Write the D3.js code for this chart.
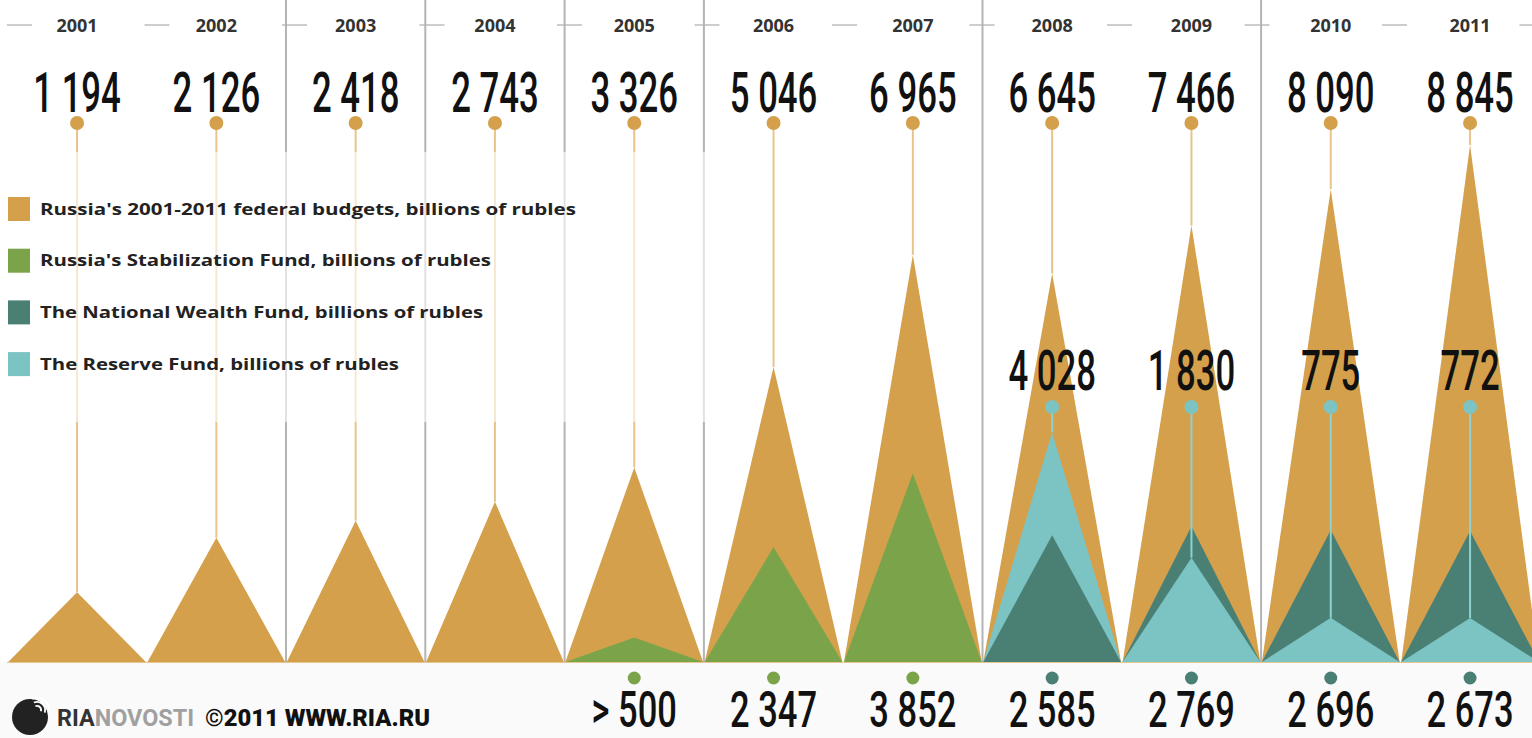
<!DOCTYPE html>
<html><head><meta charset="utf-8">
<script src="https://cdn.jsdelivr.net/npm/d3@7"></script>
<style>html,body{margin:0;padding:0;background:#fff;overflow:hidden}</style>
</head><body>
<svg id="c" width="1532" height="738"></svg>
<script>
const years = [2001,2002,2003,2004,2005,2006,2007,2008,2009,2010,2011];
const budget = [1194,2126,2418,2743,3326,5046,6965,6645,7466,8090,8845];
const budgetLabels = ["1 194","2 126","2 418","2 743","3 326","5 046","6 965","6 645","7 466","8 090","8 845"];
const stabFund = [null,null,null,null,500,2347,3852,null,null,null,null];
const stabLabels = [null,null,null,null,"> 500","2 347","3 852",null,null,null,null];
const wealthFund = [null,null,null,null,null,null,null,2585,2769,2696,2673];
const wealthLabels = [null,null,null,null,null,null,null,"2 585","2 769","2 696","2 673"];
const reserveFund = [null,null,null,null,null,null,null,4028,1830,775,772];
const reserveLabels = [null,null,null,null,null,null,null,"4 028","1 830","775","772"];
const separatorsAfter = [2002,2003,2004,2005,2007,2009];
const legendItems = [
  {name:"Russia's 2001-2011 federal budgets, billions of rubles", color:"#d4a04c", w:536},
  {name:"Russia's Stabilization Fund, billions of rubles", color:"#7ba44a", w:451},
  {name:"The National Wealth Fund, billions of rubles", color:"#4a7f74", w:443},
  {name:"The Reserve Fund, billions of rubles", color:"#7cc3c3", w:359}
];

const C = {budget:"#d4a04c", stab:"#7ba44a", wealth:"#4a7f74", reserve:"#7cc3c3",
           budgetLine:"#e8c48c", reserveLine:"#8fd0d0", grid:"#b4b4b4"};
const svg = d3.select("#c");
const base = 662;
const x = d3.scaleBand().domain(years).range([7.4, 7.4 + 11*139.3]).paddingInner(0);
const cx = y => x(y) + x.bandwidth()/2;
const yB = d3.scaleLinear().domain([0, 8845]).range([base, 145]);
const yF = d3.scaleLinear().domain([0, 4000]).range([base, 466]);
const yR = d3.scaleLinear().domain([0, 4000]).range([base, 434]);

svg.append("rect").attr("x",0).attr("y",base).attr("width",1532).attr("height",738-base).attr("fill","#fafafa");

svg.append("line").attr("x1",7).attr("x2",1532).attr("y1",25).attr("y2",25)
  .attr("stroke","#bdbdbd").attr("stroke-width",1.5).attr("stroke-dasharray","25 112.5");

separatorsAfter.forEach(yr => {
  const sx = x(yr) + x.bandwidth();
  svg.append("line").attr("x1",sx).attr("x2",sx).attr("y1",0).attr("y2",base)
    .attr("stroke",C.grid).attr("stroke-width",2);
});

const tri = (yr, yscale, v) => {
  const x0 = x(yr) + 0.8, x1 = x(yr) + x.bandwidth() - 0.8;
  return `M${x0},${base}L${cx(yr)},${yscale(v)}L${x1},${base}Z`;
};

years.forEach((yr,i) => {
  svg.append("line").attr("x1",cx(yr)).attr("x2",cx(yr)).attr("y1",123).attr("y2",yB(budget[i]))
    .attr("stroke",C.budgetLine).attr("stroke-width",2);
});

svg.selectAll("path.b").data(years).join("path").attr("class","b")
  .attr("d",(yr,i)=>tri(yr,yB,budget[i])).attr("fill",C.budget);

years.forEach((yr,i) => {
  const items = [];
  if (stabFund[i] != null) items.push({v:stabFund[i], s:yF, c:C.stab});
  if (wealthFund[i] != null) items.push({v:wealthFund[i], s:yF, c:C.wealth});
  if (reserveFund[i] != null) items.push({v:reserveFund[i], s:yR, c:C.reserve});
  items.sort((a,b)=> a.s(a.v) - b.s(b.v));
  items.forEach(it => svg.append("path").attr("d",tri(yr,it.s,it.v)).attr("fill",it.c));
});

years.forEach((yr,i) => {
  if (reserveFund[i] == null) return;
  svg.append("line").attr("x1",cx(yr)).attr("x2",cx(yr)).attr("y1",407).attr("y2",yR(reserveFund[i]))
    .attr("stroke",C.reserveLine).attr("stroke-width",2);
});

svg.append("line").attr("x1",7).attr("x2",1532).attr("y1",base+0.5).attr("y2",base+0.5)
  .attr("stroke","#e6c690").attr("stroke-width",1);

svg.append("rect").attr("x",0).attr("y",152).attr("width",712).attr("height",270)
  .attr("fill","#fff").attr("opacity",0.6);

years.forEach((yr,i) => {
  svg.append("circle").attr("cx",cx(yr)).attr("cy",123).attr("r",7).attr("fill",C.budget);
  if (reserveFund[i] != null)
    svg.append("circle").attr("cx",cx(yr)).attr("cy",407).attr("r",7).attr("fill",C.reserve);
  if (stabFund[i] != null)
    svg.append("circle").attr("cx",cx(yr)).attr("cy",678).attr("r",6.5).attr("fill",C.stab);
  if (wealthFund[i] != null)
    svg.append("circle").attr("cx",cx(yr)).attr("cy",678).attr("r",6.5).attr("fill",C.wealth);
});

function bigNum(px, py, t, fs, sx){
  svg.append("text").attr("transform",`translate(${px},${py}) scale(${sx},1)`)
    .attr("text-anchor","middle").attr("font-family","Roboto, sans-serif").attr("font-weight",500)
    .attr("font-size",fs).attr("fill","#111").text(t);
}
years.forEach((yr,i) => {
  bigNum(cx(yr), 112, budgetLabels[i], 56, 0.62);
  if (reserveLabels[i]) bigNum(cx(yr), 390, reserveLabels[i], 56, 0.62);
  if (stabLabels[i]) bigNum(cx(yr), 727, stabLabels[i], 50, 0.69);
  if (wealthLabels[i]) bigNum(cx(yr), 727, wealthLabels[i], 50, 0.69);
});

svg.selectAll("text.yr").data(years).join("text").attr("class","yr")
  .attr("x",d=>cx(d)).attr("y",32).attr("text-anchor","middle")
  .attr("font-family","'Open Sans', sans-serif").attr("font-weight",700).attr("font-size",18)
  .attr("fill","#333").text(d=>d);

legendItems.forEach((it,k) => {
  const ly = 209 + k*51.7;
  svg.append("rect").attr("x",8).attr("y",ly-12).attr("width",22).attr("height",24).attr("fill",it.color);
  svg.append("text").attr("x",40).attr("y",ly+5.5)
    .attr("font-family","'Open Sans', sans-serif").attr("font-weight",700).attr("font-size",15.5)
    .attr("fill","#222").attr("textLength",it.w).attr("lengthAdjust","spacingAndGlyphs").text(it.name);
});

const lg = svg.append("g");
lg.append("circle").attr("cx",30).attr("cy",717).attr("r",18).attr("fill","#222");
[5,9,13].forEach(r => {
  lg.append("path").attr("d", d3.arc()({innerRadius:r-1.8, outerRadius:r, startAngle:-0.4, endAngle:1.9}))
    .attr("transform","translate(37,710)").attr("fill","#fff");
});
const t1 = svg.append("text").attr("x",57).attr("y",726)
  .attr("font-family","Roboto, sans-serif").attr("font-weight",700).attr("font-size",24)
  .attr("textLength",137).attr("lengthAdjust","spacingAndGlyphs");
t1.append("tspan").attr("fill","#333").text("RIA");
t1.append("tspan").attr("fill","#a0a0a0").text("NOVOSTI");
svg.append("text").attr("x",205).attr("y",726)
  .attr("font-family","Roboto, sans-serif").attr("font-weight",900).attr("font-size",24)
  .attr("fill","#111").attr("textLength",225).attr("lengthAdjust","spacingAndGlyphs")
  .text("©2011 WWW.RIA.RU");
</script>
</body></html>
